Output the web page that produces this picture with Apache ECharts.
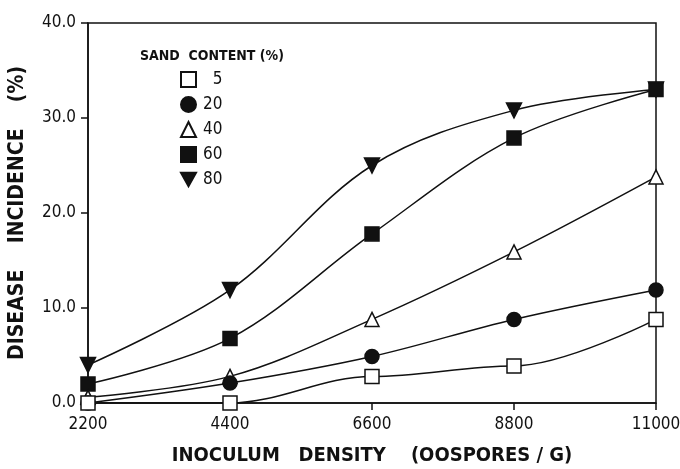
<!DOCTYPE html>
<html><head><meta charset="utf-8">
<script src="https://cdn.jsdelivr.net/npm/echarts@6/dist/echarts.min.js"></script>
<style>html,body{margin:0;padding:0;background:#fff}#c{width:680px;height:469px}</style>
</head><body><div id="c"></div>
<script>
const xValues = [2200, 4400, 6600, 8800, 11000];
const seriesNames = ['5', '20', '40', '60', '80'];
const sand5  = [0.0, 0.0, 2.8, 3.9, 8.8];
const sand20 = [0.0, 2.1, 4.9, 8.8, 11.9];
const sand40 = [0.6, 2.8, 8.8, 15.9, 23.8];
const sand60 = [2.0, 6.8, 17.8, 27.9, 33.0];
const sand80 = [4.0, 11.9, 25.0, 30.8, 33.0];
const yTicks = [0, 10, 20, 30, 40];

const FONT = '"DejaVu Sans Condensed","Liberation Sans Narrow",sans-serif';
const symbols = [
  {symbol:'rect', fill:'#fff'},
  {symbol:'circle', fill:'#111'},
  {symbol:'triangle', fill:'#fff'},
  {symbol:'rect', fill:'#111'},
  {symbol:'path://M0,0 L10,0 L5,9 Z', fill:'#111'}
];
const allData = [sand5, sand20, sand40, sand60, sand80];

const series = allData.map((vals, i) => ({
  name: seriesNames[i],
  type: 'line',
  smooth: 0.35,
  smoothMonotone: i === 0 ? 'x' : undefined,
  data: xValues.map((x, j) => [x, vals[j]]),
  symbol: symbols[i].symbol,
  symbolSize: i === 4 ? 15 : 14,
  lineStyle: {color:'#111', width:1.5},
  itemStyle: {color: symbols[i].fill, borderColor:'#111', borderWidth: 1.5},
  z: 5 - i
}));

const chart = echarts.init(document.getElementById('c'));
chart.setOption({
  animation: false,
  backgroundColor: '#fff',
  grid: {left: 88, right: 24, top: 23, bottom: 66, show: true, borderColor:'#111', borderWidth: 1.5,
    containLabel: false, outerBoundsMode: 'none'},
  title: {text: 'SAND  CONTENT (%)', left: 135, top: 44,
    textStyle: {fontFamily: FONT, fontSize: 14, fontWeight: 'bold', color:'#111'}},
  legend: {
    orient: 'vertical', left: 175, top: 66, itemGap: 8,
    itemWidth: 15, itemHeight: 15,
    data: seriesNames.map((n, i) => ({name: n, icon: symbols[i].symbol})),
    formatter: n => n.length === 1 ? '  ' + n : n,
    textStyle: {fontFamily: FONT, fontSize: 17, color:'#111', padding:[0,0,0,2]}
  },
  xAxis: {
    type: 'value', min: 2200, max: 11000, interval: 2200,
    name: 'INOCULUM   DENSITY    (OOSPORES / G)', nameLocation: 'middle', nameGap: 43,
    nameTextStyle: {fontFamily: FONT, fontSize: 20, fontWeight: 'bold', color:'#111'},
    axisLine: {lineStyle: {color:'#111', width:1.5}},
    axisTick: {length: 7, lineStyle:{color:'#111', width:1.5}},
    splitLine: {show: false},
    axisLabel: {fontFamily: FONT, fontSize: 17, color:'#111', margin: 13,
      formatter: v => String(v)}
  },
  yAxis: {
    type: 'value', min: 0, max: 40, interval: 10,
    name: 'DISEASE    INCIDENCE    (%)', nameLocation: 'middle', nameGap: 60,
    nameTextStyle: {fontFamily: FONT, fontSize: 21, fontWeight: 'bold', color:'#111'},
    axisLine: {show: true, lineStyle: {color:'#111', width:1.5}},
    axisTick: {show: true, length: 7, lineStyle:{color:'#111', width:1.5}},
    splitLine: {show: false},
    axisLabel: {fontFamily: FONT, fontSize: 17, color:'#111', margin: 12,
      formatter: v => v.toFixed(1)}
  },
  series: series
});
</script></body></html>
